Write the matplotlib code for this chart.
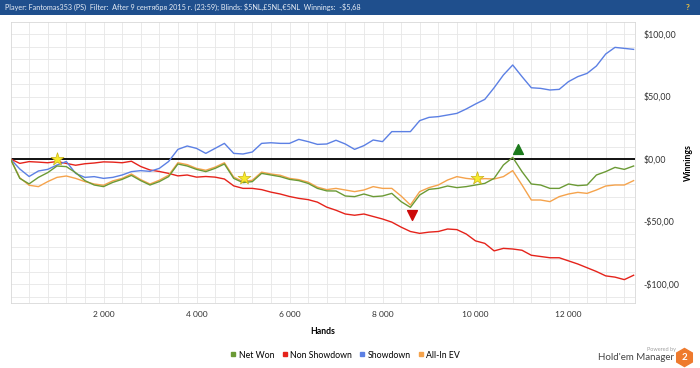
import matplotlib.pyplot as plt
from matplotlib.patches import Rectangle
from matplotlib.lines import Line2D

plt.rcParams['font.family'] = ['Lato', 'DejaVu Sans']

hands = list(range(0, 13401, 200))

net_won = [0, -15.5, -19.9, -14.7, -10.9, -5.6, -6.1, -10.9, -17.3, -20.8,
           -22.1, -18.7, -16.3, -13.1, -17.3, -20.8, -18.1, -14.1, -4, -5.6,
           -8.3, -10.1, -7.5, -4, -15.5, -18.9, -18.1, -11.5, -12.8, -14.1,
           -16.3, -17.3, -19.5, -23.5, -25.5, -25.6, -29.6, -30.1, -28, -30.1,
           -29.6, -27.5, -34.1, -38.7, -28.8, -24.3, -23.5, -21.6, -22.9, -22.1,
           -20.8, -19.5, -15.5, -4.8, 1.3, -10.1, -20, -20.8, -23.5, -23.5,
           -20, -21.3, -20.8, -12.8, -10.1, -6.7, -8.3, -5.6]

non_showdown = [0, -3.5, -2.1, -2.5, -3, -2, -3.5, -5, -3.8, -3.2,
                -2.3, -2.5, -3, -1.8, -6, -8.8, -10, -11.5, -13.5, -12.8,
                -14.5, -14, -14.5, -16, -21.5, -23.5, -23.5, -24.5, -26.5, -28,
                -30, -31.5, -32.5, -34.5, -38.5, -41, -44, -45, -44, -46,
                -48, -50.5, -54.5, -58, -59.5, -58.5, -58, -56, -56.5, -60,
                -65.5, -67.5, -73.5, -71.5, -72, -73, -77, -78, -79, -79,
                -81.5, -84, -87, -90, -93.5, -94.5, -96.5, -93]

showdown = [0, -8, -14, -9.6, -8.3, -4.8, -2, -11.5, -14.7, -14.1,
            -15.5, -14.7, -12.8, -10.1, -9.3, -9.9, -7.5, -2, 7.7, 10.4,
            8.5, 4.5, 8.5, 12.5, 4.5, 4, 5.6, 12.5, 13, 12.5,
            12.5, 15.7, 13.9, 11.7, 12, 15, 12, 7.7, 10.7, 15.2,
            13.9, 21.9, 21.9, 21.9, 30.7, 33.3, 33.9, 35.2, 36.5, 40,
            44, 47.7, 57, 67.2, 75.2, 65.9, 57, 56.5, 55.2, 55.7,
            61.9, 65.9, 68.5, 74.4, 84, 89.3, 88.5, 87.7]

all_in_ev = [0, -15, -21, -22.1, -18.1, -14.7, -13.6, -15.5, -18.1, -20,
             -21, -17.5, -15.5, -12, -16.5, -20, -17, -13, -3, -4.5,
             -7.5, -9, -6.5, -3, -14.5, -18, -17, -10.5, -12, -13,
             -15.5, -16.5, -18.5, -22.5, -24.5, -23.5, -24.8, -26.1, -24.8, -22.1,
             -23.5, -23.5, -29.6, -36.8, -26.1, -22.9, -20.8, -16.8, -14.1, -15.5,
             -16.3, -15.7, -16, -14.1, -9.3, -20.8, -32.8, -32.8, -34.1, -30.1,
             -28, -26.7, -27.5, -24.8, -21.6, -20.8, -20.8, -17.3]

star_hands = [1005, 5030, 10025]
star_vals = [0, -15, -15.5]
low_hand, low_val = 8627, -45
high_hand, high_val = 10907, 8

yticks = [100, 50, 0, -50, -100]
ytick_labels = ['$100,00', '$50,00', '$0,00', '-$50,00', '-$100,00']
xticks = [2000, 4000, 6000, 8000, 10000, 12000]
xtick_labels = ['2 000', '4 000', '6 000', '8 000', '10 000', '12 000']

c_green = '#6b9a35'
c_red = '#e5231b'
c_blue = '#5c80e4'
c_orange = '#f5a34c'

fig = plt.figure(figsize=(7, 3.68), dpi=100)
fig.patch.set_facecolor('white')

# header bar
fig.patches.append(Rectangle((0, 1 - 15 / 368), 1, 15 / 368, transform=fig.transFigure,
                             facecolor='#1f4f8d', edgecolor='none'))
fig.text(5 / 700, 1 - 7.5 / 368,
         'Player: Fantomas353 (PS)  Filter:  After 9 сентября 2015 г. (23:59); '
         'Blinds: \\$5NL,£5NL,€5NL  Winnings:  -\\$5,68',
         color='#e8eef6', fontsize=5.2, va='center', ha='left')
fig.text(688 / 700, 1 - 7.5 / 368, '?', color='#f3c43a', fontsize=6, fontweight='bold',
         va='center', ha='center')

ax = fig.add_axes([10.5 / 700, 65 / 368, 624.5 / 700, 281 / 368])
ax.set_xlim(0, 13430)
ax.set_ylim(-115.2, 109.6)

# grid
for h in range(400, 13430, 400):
    ax.axvline(h, color='#e7e7e7', lw=0.6, zorder=0)
for v in range(-110, 110, 10):
    ax.axhline(v, color='#e7e7e7', lw=0.6, zorder=0)
for s in ax.spines.values():
    s.set_color('#d8d8d8')
    s.set_linewidth(0.6)

ax.axhline(0, color='#111111', lw=1.4, zorder=2)

ax.plot(hands, net_won, color=c_green, lw=1.0, zorder=5)
ax.plot(hands, non_showdown, color=c_red, lw=1.0, zorder=4)
ax.plot(hands, showdown, color=c_blue, lw=1.0, zorder=4)
ax.plot(hands, all_in_ev, color=c_orange, lw=1.0, zorder=4)

ax.scatter(star_hands, star_vals, marker='*', s=95, color='#f7ea2c',
           edgecolors='#c9b21a', linewidths=0.5, zorder=6)
ax.scatter([low_hand], [low_val], marker='v', s=50, color='#cc0a0a', zorder=6)
ax.scatter([high_hand], [high_val], marker='^', s=50, color='#1c7a1c', zorder=6)

ax.set_xticks(xticks)
ax.set_xticklabels(xtick_labels, fontsize=6, color='#333333')
ax.yaxis.tick_right()
ax.set_yticks(yticks)
ax.set_yticklabels(ytick_labels, fontsize=6.3, color='#333333')
ax.tick_params(length=0, pad=6)
ax.set_xlabel('Hands', fontsize=6.3, fontweight='bold', labelpad=6)
ax.yaxis.set_label_position('right')
ax.set_ylabel('Winnings', fontsize=6.3, fontweight='bold', labelpad=3)

handles = [Line2D([], [], marker='s', ls='', color=c, markersize=3.5)
           for c in (c_green, c_red, c_blue, c_orange)]
fig.legend(handles, ['Net Won', 'Non Showdown', 'Showdown', 'All-In EV'],
           loc='center', bbox_to_anchor=(345 / 700, 1 - 355 / 368), ncol=4,
           frameon=False, fontsize=6.3, handletextpad=0.2, columnspacing=0.8,
           handlelength=0.8)

# Hold'em Manager logo
fig.text(676 / 700, 1 - 349 / 368, 'Powered by', fontsize=4, color='#a0a0a0',
         ha='right', va='center')
fig.text(674 / 700, 1 - 357.5 / 368, "Hold'em Manager", fontsize=7, color='#444444',
         ha='right', va='center')
fig.add_artist(Line2D([684 / 700], [1 - 357 / 368], marker='h', markersize=13,
                      color='#ee7a2d', transform=fig.transFigure))
fig.text(684 / 700, 1 - 357 / 368, '2', fontsize=7, color='white', fontweight='bold',
         ha='center', va='center')

fig.savefig('out.png', dpi=100)
